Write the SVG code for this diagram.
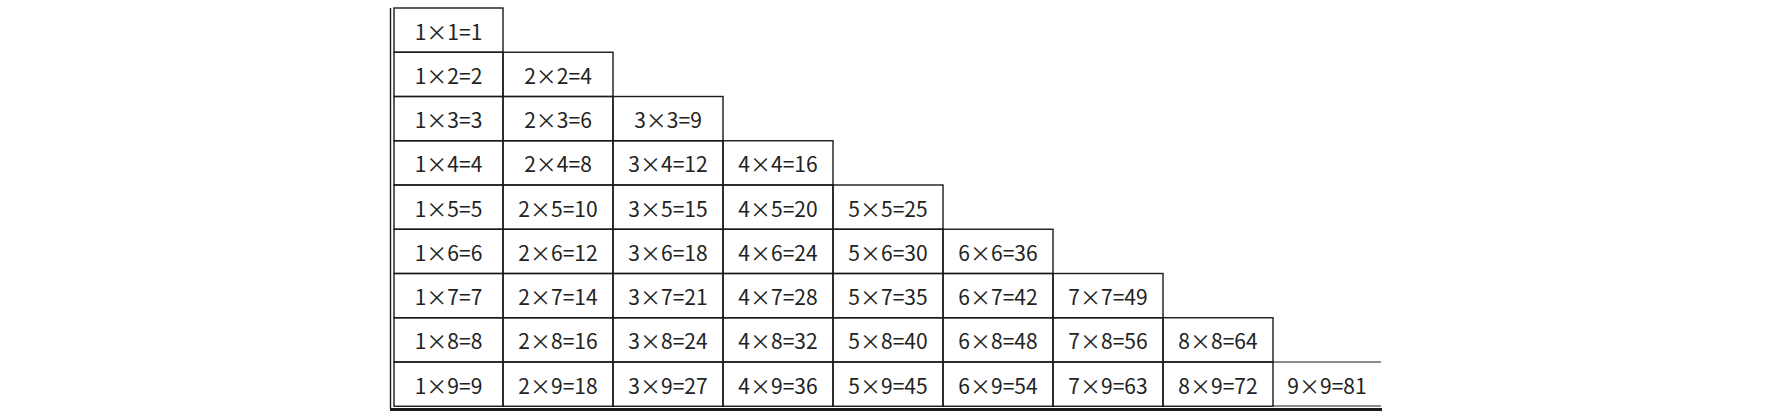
<svg xmlns="http://www.w3.org/2000/svg" width="1784" height="418" viewBox="0 0 1784 418">
<style>
.cell rect{fill:none;stroke:#1a1a1a;stroke-width:1.4}
.cell text{font-family:"Noto Sans CJK SC","Noto Sans",sans-serif;font-size:21px;fill:#222;text-anchor:middle}
.rule{stroke:#1a1a1a;fill:none}
</style>
<rect width="1784" height="418" fill="#fff"/>
<g id="r1c1" class="cell"><rect x="394" y="8" width="109" height="44.25"/><text x="448.5" y="39.5">1×1=1</text></g>
<g id="r2c1" class="cell"><rect x="394" y="52.25" width="109" height="44.25"/><text x="448.5" y="83.75">1×2=2</text></g>
<g id="r2c2" class="cell"><rect x="503" y="52.25" width="110" height="44.25"/><text x="558" y="83.75">2×2=4</text></g>
<g id="r3c1" class="cell"><rect x="394" y="96.5" width="109" height="44.25"/><text x="448.5" y="128">1×3=3</text></g>
<g id="r3c2" class="cell"><rect x="503" y="96.5" width="110" height="44.25"/><text x="558" y="128">2×3=6</text></g>
<g id="r3c3" class="cell"><rect x="613" y="96.5" width="110" height="44.25"/><text x="668" y="128">3×3=9</text></g>
<g id="r4c1" class="cell"><rect x="394" y="140.75" width="109" height="44.25"/><text x="448.5" y="172.25">1×4=4</text></g>
<g id="r4c2" class="cell"><rect x="503" y="140.75" width="110" height="44.25"/><text x="558" y="172.25">2×4=8</text></g>
<g id="r4c3" class="cell"><rect x="613" y="140.75" width="110" height="44.25"/><text x="668" y="172.25">3×4=12</text></g>
<g id="r4c4" class="cell"><rect x="723" y="140.75" width="110" height="44.25"/><text x="778" y="172.25">4×4=16</text></g>
<g id="r5c1" class="cell"><rect x="394" y="185" width="109" height="44.25"/><text x="448.5" y="216.5">1×5=5</text></g>
<g id="r5c2" class="cell"><rect x="503" y="185" width="110" height="44.25"/><text x="558" y="216.5">2×5=10</text></g>
<g id="r5c3" class="cell"><rect x="613" y="185" width="110" height="44.25"/><text x="668" y="216.5">3×5=15</text></g>
<g id="r5c4" class="cell"><rect x="723" y="185" width="110" height="44.25"/><text x="778" y="216.5">4×5=20</text></g>
<g id="r5c5" class="cell"><rect x="833" y="185" width="110" height="44.25"/><text x="888" y="216.5">5×5=25</text></g>
<g id="r6c1" class="cell"><rect x="394" y="229.25" width="109" height="44.25"/><text x="448.5" y="260.75">1×6=6</text></g>
<g id="r6c2" class="cell"><rect x="503" y="229.25" width="110" height="44.25"/><text x="558" y="260.75">2×6=12</text></g>
<g id="r6c3" class="cell"><rect x="613" y="229.25" width="110" height="44.25"/><text x="668" y="260.75">3×6=18</text></g>
<g id="r6c4" class="cell"><rect x="723" y="229.25" width="110" height="44.25"/><text x="778" y="260.75">4×6=24</text></g>
<g id="r6c5" class="cell"><rect x="833" y="229.25" width="110" height="44.25"/><text x="888" y="260.75">5×6=30</text></g>
<g id="r6c6" class="cell"><rect x="943" y="229.25" width="110" height="44.25"/><text x="998" y="260.75">6×6=36</text></g>
<g id="r7c1" class="cell"><rect x="394" y="273.5" width="109" height="44.25"/><text x="448.5" y="305">1×7=7</text></g>
<g id="r7c2" class="cell"><rect x="503" y="273.5" width="110" height="44.25"/><text x="558" y="305">2×7=14</text></g>
<g id="r7c3" class="cell"><rect x="613" y="273.5" width="110" height="44.25"/><text x="668" y="305">3×7=21</text></g>
<g id="r7c4" class="cell"><rect x="723" y="273.5" width="110" height="44.25"/><text x="778" y="305">4×7=28</text></g>
<g id="r7c5" class="cell"><rect x="833" y="273.5" width="110" height="44.25"/><text x="888" y="305">5×7=35</text></g>
<g id="r7c6" class="cell"><rect x="943" y="273.5" width="110" height="44.25"/><text x="998" y="305">6×7=42</text></g>
<g id="r7c7" class="cell"><rect x="1053" y="273.5" width="110" height="44.25"/><text x="1108" y="305">7×7=49</text></g>
<g id="r8c1" class="cell"><rect x="394" y="317.75" width="109" height="44.25"/><text x="448.5" y="349.25">1×8=8</text></g>
<g id="r8c2" class="cell"><rect x="503" y="317.75" width="110" height="44.25"/><text x="558" y="349.25">2×8=16</text></g>
<g id="r8c3" class="cell"><rect x="613" y="317.75" width="110" height="44.25"/><text x="668" y="349.25">3×8=24</text></g>
<g id="r8c4" class="cell"><rect x="723" y="317.75" width="110" height="44.25"/><text x="778" y="349.25">4×8=32</text></g>
<g id="r8c5" class="cell"><rect x="833" y="317.75" width="110" height="44.25"/><text x="888" y="349.25">5×8=40</text></g>
<g id="r8c6" class="cell"><rect x="943" y="317.75" width="110" height="44.25"/><text x="998" y="349.25">6×8=48</text></g>
<g id="r8c7" class="cell"><rect x="1053" y="317.75" width="110" height="44.25"/><text x="1108" y="349.25">7×8=56</text></g>
<g id="r8c8" class="cell"><rect x="1163" y="317.75" width="110" height="44.25"/><text x="1218" y="349.25">8×8=64</text></g>
<g id="r9c1" class="cell"><rect x="394" y="362" width="109" height="44.25"/><text x="448.5" y="393.5">1×9=9</text></g>
<g id="r9c2" class="cell"><rect x="503" y="362" width="110" height="44.25"/><text x="558" y="393.5">2×9=18</text></g>
<g id="r9c3" class="cell"><rect x="613" y="362" width="110" height="44.25"/><text x="668" y="393.5">3×9=27</text></g>
<g id="r9c4" class="cell"><rect x="723" y="362" width="110" height="44.25"/><text x="778" y="393.5">4×9=36</text></g>
<g id="r9c5" class="cell"><rect x="833" y="362" width="110" height="44.25"/><text x="888" y="393.5">5×9=45</text></g>
<g id="r9c6" class="cell"><rect x="943" y="362" width="110" height="44.25"/><text x="998" y="393.5">6×9=54</text></g>
<g id="r9c7" class="cell"><rect x="1053" y="362" width="110" height="44.25"/><text x="1108" y="393.5">7×9=63</text></g>
<g id="r9c8" class="cell"><rect x="1163" y="362" width="110" height="44.25"/><text x="1218" y="393.5">8×9=72</text></g>
<g id="r9c9" class="cell"><text x="1327" y="393.5">9×9=81</text></g>
<g id="connectors">
<line class="rule" x1="1273" y1="362" x2="1381" y2="362" stroke-width="1.2"/>
<line class="rule" x1="1273" y1="406" x2="1381" y2="406" stroke-width="1.2"/>
<line class="rule" x1="390.5" y1="8" x2="390.5" y2="409" stroke-width="1.4"/>
<line class="rule" x1="390" y1="409.5" x2="1382" y2="409.5" stroke-width="3"/>
</g>
</svg>
